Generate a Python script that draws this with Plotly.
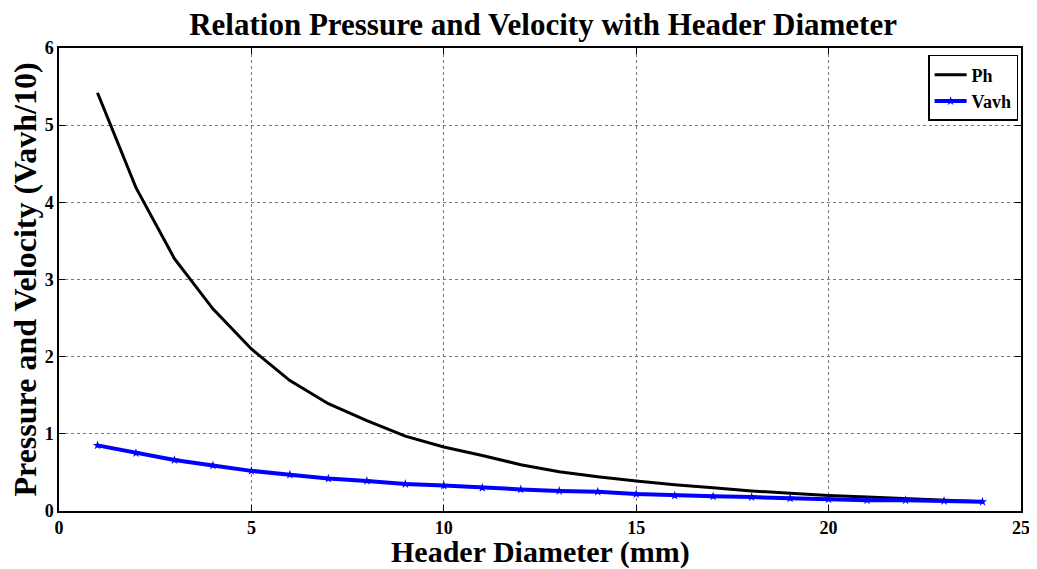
import plotly.graph_objects as go

diameter = list(range(1, 25))
ph = [5.42, 4.19, 3.27, 2.62, 2.10, 1.69, 1.39, 1.17, 0.97, 0.83, 0.72, 0.60, 0.51,
      0.445, 0.39, 0.34, 0.30, 0.26, 0.23, 0.20, 0.18, 0.16, 0.14, 0.12]
vavh = [0.85, 0.75, 0.66, 0.59, 0.52, 0.47, 0.42, 0.39, 0.35, 0.33, 0.30, 0.28, 0.26,
        0.25, 0.22, 0.20, 0.19, 0.18, 0.165, 0.155, 0.14, 0.14, 0.13, 0.12]

FONT = "Liberation Serif"

fig = go.Figure()
fig.add_trace(go.Scatter(x=diameter, y=ph, mode="lines", name="<b>Ph</b>",
                         line=dict(color="black", width=3)))
fig.add_trace(go.Scatter(x=diameter, y=vavh, mode="lines+markers", name="<b>Vavh</b>",
                         line=dict(color="#0000ff", width=4),
                         marker=dict(symbol="star", size=7, color="#0000ff")))

axis_common = dict(showline=True, linecolor="black", linewidth=1.5, mirror="ticks",
                   ticks="inside", ticklen=6, tickcolor="black", automargin=False,
                   showgrid=True, gridcolor="#777777", griddash="dot", gridwidth=1,
                   zeroline=False,
                   tickfont=dict(family=FONT, size=18, color="black", weight="bold"))

fig.update_layout(
    width=1029, height=561,
    margin=dict(l=51, r=16, t=40, b=58),
    paper_bgcolor="white", plot_bgcolor="white",
    title=dict(text="<b>Relation Pressure and Velocity with Header Diameter</b>",
               x=0.52, xanchor="center", y=0.972, yanchor="middle",
               font=dict(family=FONT, size=31, color="black")),
    xaxis=dict(range=[0, 25], dtick=5, **axis_common),
    yaxis=dict(range=[0, 6], dtick=1, **axis_common),
    legend=dict(x=0.997, y=0.985, xanchor="right", yanchor="top",
                bordercolor="black", borderwidth=1.5, bgcolor="white",
                font=dict(family=FONT, size=18, color="black"),
                tracegroupgap=0, itemwidth=32),
    showlegend=True,
    annotations=[
        dict(text="<b>Header Diameter (mm)</b>", xref="paper", yref="paper",
             x=0.5, y=0, yshift=-41, xanchor="center", yanchor="middle", borderpad=0,
             showarrow=False, font=dict(family=FONT, size=30, color="black")),
        dict(text="<b>Pressure and Velocity (Vavh/10)</b>", xref="paper", yref="paper",
             x=0, xshift=-55, y=0.5, textangle=-90, xanchor="left", yanchor="middle",
             showarrow=False, font=dict(family=FONT, size=32, color="black")),
    ],
)

fig.write_html("out.html")
